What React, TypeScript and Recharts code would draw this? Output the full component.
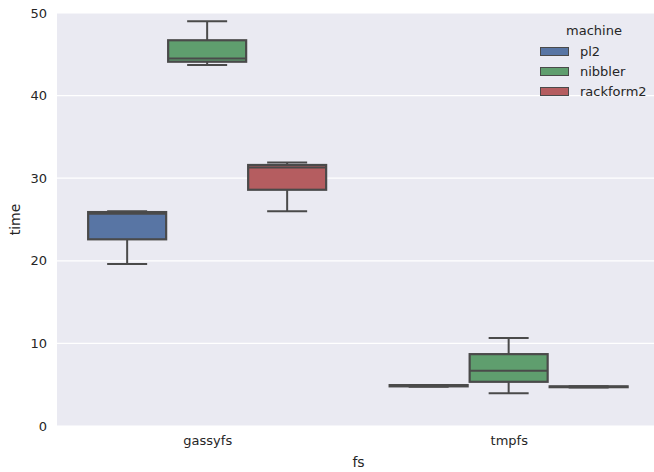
import React from 'react';
import { ComposedChart, Bar, XAxis, YAxis, CartesianGrid } from 'recharts';

const categories = ['gassyfs', 'tmpfs'];
const machines = ['pl2', 'nibbler', 'rackform2'];
const boxColors = ['#5875a4', '#5f9e6e', '#b55d60'];
const yTicks = [0, 10, 20, 30, 40, 50];

// [min, q1, median, q3, max] for each fs
const pl2Stats = [
  [19.6, 22.6, 25.7, 25.9, 26.0],
  [4.75, 4.8, 4.85, 4.95, 4.95],
];
const nibblerStats = [
  [43.7, 44.1, 44.5, 46.7, 49.0],
  [3.95, 5.35, 6.7, 8.7, 10.65],
];
const rackform2Stats = [
  [26.0, 28.6, 31.3, 31.6, 31.9],
  [4.65, 4.7, 4.75, 4.8, 4.8],
];
const statsByMachine = [pl2Stats, nibblerStats, rackform2Stats];

const lineColor = '#4a4a4a';
const textColor = '#262626';
const font = '"DejaVu Sans", sans-serif';

// bar value is the max, so the bar runs 0..max and gives us the scale
const data = categories.map((fs, i) => {
  const row: Record<string, any> = { fs };
  machines.forEach((m, j) => {
    row[m] = statsByMachine[j][i][4];
  });
  return row;
});

const makeBoxShape = (stats: number[][], fill: string) => (props: any) => {
  const { x, y, width, height, payload } = props;
  const s = stats[categories.indexOf(payload.fs)];
  if (!s || !height) return <g />;
  const ppu = height / s[4];
  const base = y + height;
  const py = (v: number) => base - v * ppu;
  const cx = x + width / 2;
  const cap = width / 4;
  return (
    <g>
      <line x1={cx} x2={cx} y1={py(s[4])} y2={py(s[3])} stroke={lineColor} strokeWidth={2} />
      <line x1={cx} x2={cx} y1={py(s[1])} y2={py(s[0])} stroke={lineColor} strokeWidth={2} />
      <line x1={cx - cap} x2={cx + cap} y1={py(s[4])} y2={py(s[4])} stroke={lineColor} strokeWidth={2} />
      <line x1={cx - cap} x2={cx + cap} y1={py(s[0])} y2={py(s[0])} stroke={lineColor} strokeWidth={2} />
      <rect
        x={x + 1}
        y={py(s[3])}
        width={width - 2}
        height={Math.max(py(s[1]) - py(s[3]), 0.5)}
        fill={fill}
        stroke={lineColor}
        strokeWidth={2.2}
      />
      <line x1={x + 1} x2={x + width - 1} y1={py(s[2])} y2={py(s[2])} stroke={lineColor} strokeWidth={2} />
    </g>
  );
};

export default function App() {
  return (
    <div style={{ position: 'absolute', left: 0, top: 0, width: 654, height: 472, overflow: 'hidden', background: '#fff' }}>
      <ComposedChart
        width={660}
        height={472}
        data={data}
        margin={{ top: 13, right: 0, bottom: 0, left: 0 }}
        barCategoryGap="10%"
        barGap={0}
        style={{ fontFamily: font }}
      >
        <CartesianGrid vertical={false} stroke="#ffffff" strokeWidth={1.2} fill="#eaeaf2" />
        <XAxis
          dataKey="fs"
          height={46}
          axisLine={false}
          tickLine={false}
          tickSize={0}
          tickMargin={10}
          tick={{ fill: textColor, fontSize: 13, fontFamily: font }}
          label={{
            content: (p: any) => {
              const vb = p.viewBox;
              return (
                <text x={vb.x + vb.width / 2} y={vb.y + 36} textAnchor="middle" dominantBaseline="central" fill={textColor} fontSize={14} fontFamily={font}>
                  fs
                </text>
              );
            },
          }}
        />
        <YAxis
          type="number"
          domain={[0, 50]}
          ticks={yTicks}
          width={57}
          axisLine={false}
          tickLine={false}
          tickSize={0}
          tickMargin={10}
          tick={{ fill: textColor, fontSize: 13, fontFamily: font }}
          label={{
            content: (p: any) => {
              const vb = p.viewBox;
              const cx = vb.x + 15;
              const cy = vb.y + vb.height / 2;
              return (
                <text x={cx} y={cy} transform={`rotate(-90 ${cx} ${cy})`} textAnchor="middle" dominantBaseline="central" fill={textColor} fontSize={14} fontFamily={font}>
                  time
                </text>
              );
            },
          }}
        />
        {machines.map((m, j) => (
          <Bar
            key={m}
            dataKey={m}
            fill={boxColors[j]}
            isAnimationActive={false}
            shape={makeBoxShape(statsByMachine[j], boxColors[j])}
          />
        ))}
      </ComposedChart>
      <div style={{ position: 'absolute', left: 540, top: 21, width: 108, fontFamily: font, fontSize: 13, color: textColor }}>
        <div style={{ textAlign: 'center', height: 20, lineHeight: '20px' }}>machine</div>
        {machines.map((m, j) => (
          <div key={m} style={{ display: 'flex', alignItems: 'center', height: 20 }}>
            <span style={{ display: 'inline-block', width: 27, height: 7, background: boxColors[j], border: `1px solid ${lineColor}`, marginRight: 11 }} />
            <span>{m}</span>
          </div>
        ))}
      </div>
    </div>
  );
}
